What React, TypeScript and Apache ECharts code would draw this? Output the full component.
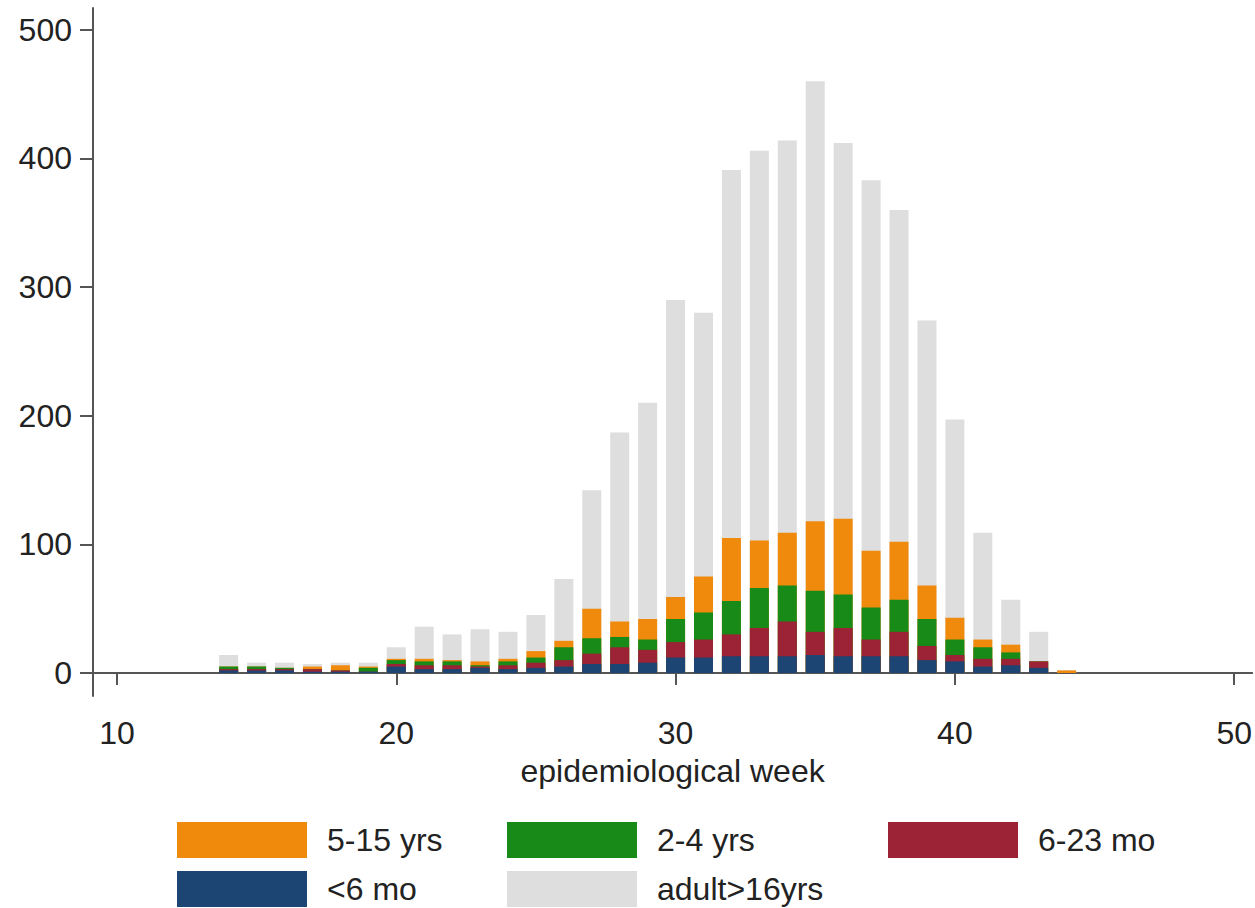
import React, { useEffect, useRef } from "react";
import * as echarts from "echarts";

// Epidemiological weeks with reported cases
const weeks = [14, 15, 16, 17, 18, 19, 20, 21, 22, 23, 24, 25, 26, 27, 28, 29, 30, 31, 32, 33, 34, 35, 36, 37, 38, 39, 40, 41, 42, 43, 44];

// Cases per age group and week
const under6mo = [2, 2, 2, 1, 1, 1, 5, 3, 3, 4, 3, 4, 5, 7, 7, 8, 12, 12, 13, 13, 13, 14, 13, 13, 13, 10, 9, 5, 6, 4, 0];
const mo6to23 = [1, 1, 1, 2, 1, 0, 2, 3, 3, 1, 3, 4, 5, 8, 13, 10, 12, 14, 17, 22, 27, 18, 22, 13, 19, 11, 5, 6, 5, 5, 0];
const yrs2to4 = [2, 2, 1, 0, 0, 3, 3, 3, 3, 1, 3, 4, 10, 12, 8, 8, 18, 21, 26, 31, 28, 32, 26, 25, 25, 21, 12, 9, 5, 0, 0];
const yrs5to15 = [0, 0, 0, 2, 4, 1, 1, 2, 1, 3, 2, 5, 5, 23, 12, 16, 17, 28, 49, 37, 41, 54, 59, 44, 45, 26, 17, 6, 6, 0, 2];
const adult = [9, 3, 4, 2, 2, 3, 9, 25, 20, 25, 21, 28, 48, 92, 147, 168, 231, 205, 286, 303, 305, 342, 292, 288, 258, 206, 154, 83, 35, 23, 0];

const xTicks = [10, 20, 30, 40, 50];
const yTicks = [0, 100, 200, 300, 400, 500];

const FONT = "'Liberation Sans', Arial, Helvetica, sans-serif";
const FONT_SIZE = 32;
const TEXT = "#222222";
const AXIS = "#555555";

// Stacking order, bottom to top
const groups = [
  { name: "<6 mo", values: under6mo, color: "#1c4573" },
  { name: "6-23 mo", values: mo6to23, color: "#9b2335" },
  { name: "2-4 yrs", values: yrs2to4, color: "#178a17" },
  { name: "5-15 yrs", values: yrs5to15, color: "#f08a0c" },
  { name: "adult>16yrs", values: adult, color: "#dedede" },
];

// Running totals per week: each group's bar reaches from 0 to the sum of
// itself and every group below it; lower groups are drawn over higher ones.
function cumulative(upTo: number): number[] {
  return weeks.map((_, i) => {
    let s = 0;
    for (let g = 0; g <= upTo; g++) s += groups[g].values[i];
    return s;
  });
}

export default function App() {
  const ref = useRef<HTMLDivElement>(null);

  useEffect(() => {
    if (!ref.current) return;
    const chart = echarts.init(ref.current, null, { renderer: "svg" });

    const legendText = { fontSize: FONT_SIZE, color: TEXT, fontFamily: FONT, padding: [0, 0, 0, 15] };
    const legendBase = {
      orient: "vertical",
      top: 822,
      height: 86,
      padding: 0,
      itemWidth: 130,
      itemHeight: 36,
      itemGap: 13,
      icon: "rect",
      selectedMode: false,
      textStyle: legendText,
    };

    const series = groups
      .map((g, gi) => {
        const tops = cumulative(gi);
        return {
          name: g.name,
          type: "bar",
          barWidth: 19,
          barGap: "-100%",
          z: 10 - gi,
          itemStyle: { color: g.color },
          emphasis: { disabled: true },
          data: weeks.map((w, i) => [w, tops[i]]),
        };
      })
      .reverse();

    chart.setOption({
      animation: false,
      backgroundColor: "#ffffff",
      textStyle: { fontFamily: FONT },
      grid: { left: 93, right: 0, top: 8, bottom: 212, containLabel: false },
      legend: [
        { ...legendBase, left: 177, data: ["5-15 yrs", "<6 mo"] },
        { ...legendBase, left: 507, data: ["2-4 yrs", "adult>16yrs"] },
        { ...legendBase, left: 888, data: ["6-23 mo"] },
      ],
      xAxis: {
        type: "value",
        min: 9.143,
        max: 50.643,
        name: "epidemiological week",
        nameLocation: "middle",
        nameGap: 59,
        nameTextStyle: { fontSize: FONT_SIZE, color: TEXT, fontFamily: FONT },
        axisLine: { show: true, lineStyle: { color: AXIS, width: 2 } },
        axisTick: { show: true, customValues: xTicks, length: 12, lineStyle: { color: AXIS, width: 2 } },
        axisLabel: { customValues: xTicks, fontSize: FONT_SIZE, color: TEXT, fontFamily: FONT, margin: 21 },
        splitLine: { show: false },
      },
      yAxis: {
        type: "value",
        min: -17.9,
        max: 517,
        axisLine: { show: true, lineStyle: { color: AXIS, width: 2 } },
        axisTick: { show: true, customValues: yTicks, length: 13, lineStyle: { color: AXIS, width: 2 } },
        axisLabel: { customValues: yTicks, fontSize: FONT_SIZE, color: TEXT, fontFamily: FONT, margin: 21 },
        splitLine: { show: false },
      },
      series,
    });

    return () => chart.dispose();
  }, []);

  return (
    <div
      ref={ref}
      style={{ position: "fixed", left: 0, top: 0, width: 1255, height: 908, background: "#ffffff" }}
    />
  );
}
